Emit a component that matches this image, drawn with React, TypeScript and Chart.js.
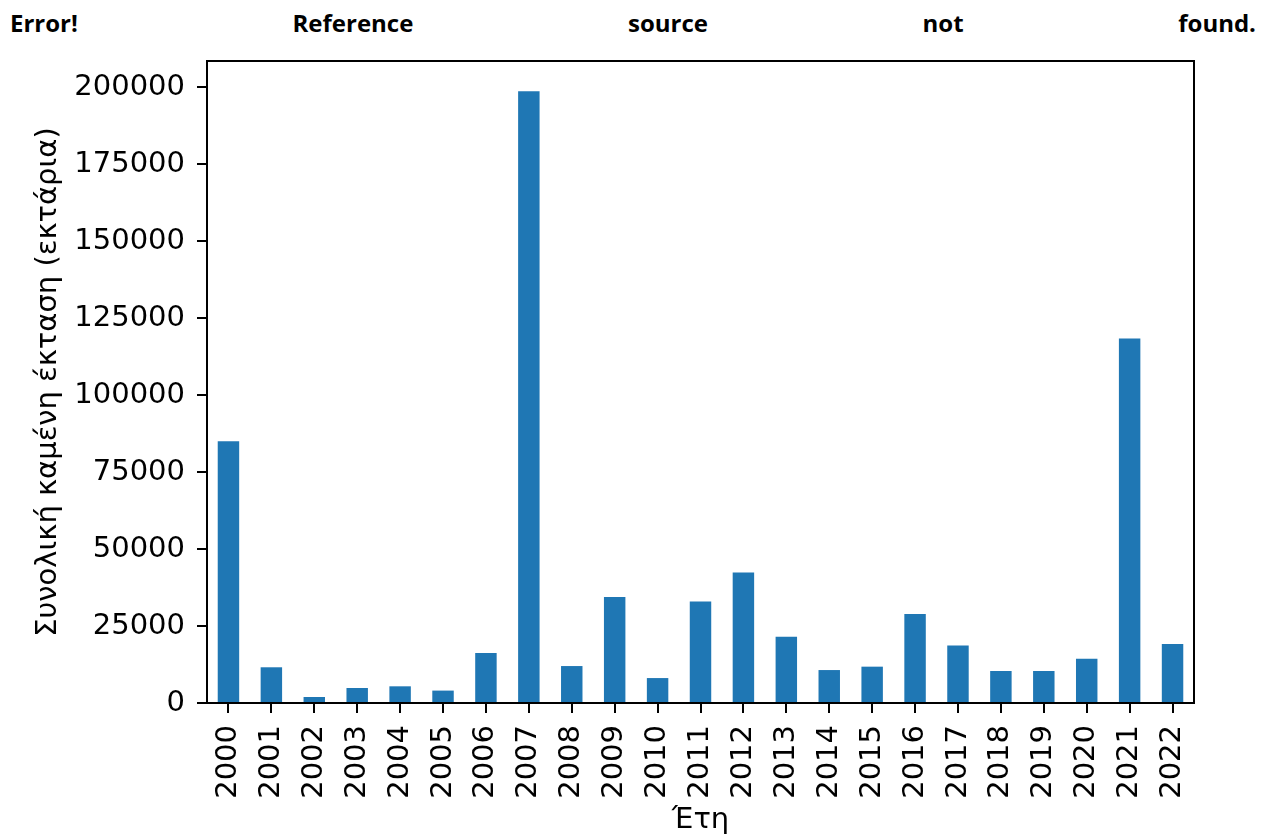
import React, { useEffect, useRef } from "react";
import { Chart, registerables } from "chart.js";

Chart.register(...registerables);

const years = [
  "2000", "2001", "2002", "2003", "2004", "2005", "2006", "2007", "2008", "2009", "2010", "2011",
  "2012", "2013", "2014", "2015", "2016", "2017", "2018", "2019", "2020", "2021", "2022",
];
const burnedArea = [
  85000, 11600, 1950, 4870, 5420, 4030, 16200, 198700, 12000, 34400, 8100, 33000,
  42350, 21550, 10700, 11800, 28900, 18700, 10400, 10400, 14400, 118400, 19150,
];
const yTicks = [0, 25000, 50000, 75000, 100000, 125000, 150000, 175000, 200000];
const yMax = 208500;
const headerWords = ["Error!", "Reference", "source", "not", "found."];
const yTitle = "Συνολική καμένη έκταση (εκτάρια)";
const xTitle = "Έτη";

const framePlugin = {
  id: "frame",
  afterDatasetsDraw(chart: any) {
    const { ctx, chartArea } = chart;
    ctx.save();
    ctx.strokeStyle = "#000";
    ctx.lineWidth = 2;
    ctx.strokeRect(chartArea.left, chartArea.top, chartArea.right - chartArea.left, chartArea.bottom - chartArea.top);
    ctx.restore();
  },
};

export default function App() {
  const ref = useRef<HTMLCanvasElement | null>(null);
  useEffect(() => {
    if (!ref.current) return;
    const font = { family: "'DejaVu Sans', sans-serif", size: 29 };
    const chart = new Chart(ref.current, {
      type: "bar",
      data: {
        labels: years,
        datasets: [
          {
            data: burnedArea,
            backgroundColor: "#1f77b4",
            borderWidth: 0,
            categoryPercentage: 1,
            barPercentage: 0.5,
          },
        ],
      },
      options: {
        animation: false,
        responsive: false,
        devicePixelRatio: 1,
        layout: { padding: { top: 61, right: 68, bottom: 0, left: 0 } },
        plugins: { legend: { display: false }, tooltip: { enabled: false } },
        scales: {
          x: {
            offset: true,
            border: { display: false },
            grid: { offset: false, drawOnChartArea: false, drawTicks: true, tickLength: 10, color: "#000", lineWidth: 2 },
            ticks: { color: "#000", font, minRotation: 90, maxRotation: 90, padding: 12, autoSkip: false },
            title: { display: true, text: xTitle, color: "#000", font, padding: { top: 0, bottom: 0 } },
            afterFit: (s: any) => { s.height = 135; },
          },
          y: {
            min: 0,
            max: yMax,
            border: { display: false },
            grid: { drawOnChartArea: false, drawTicks: true, tickLength: 10, color: "#000", lineWidth: 2 },
            ticks: { color: "#000", font, padding: 12, autoSkip: false, callback: (v: any) => String(v) },
            title: { display: true, text: yTitle, color: "#000", font, padding: { top: 31, bottom: 0 } },
            afterBuildTicks: (s: any) => { s.ticks = yTicks.map((v) => ({ value: v })); },
            afterFit: (s: any) => { s.width = 207; },
          },
        },
      },
      plugins: [framePlugin],
    });
    return () => chart.destroy();
  }, []);

  return (
    <div style={{ position: "fixed", left: 0, top: 0, width: 1262, height: 838, background: "#fff" }}>
      <div
        style={{
          position: "absolute", left: 10, top: 11, width: 1246, display: "flex", justifyContent: "space-between",
          fontFamily: "'Open Sans', sans-serif", fontWeight: 700, fontSize: 24, lineHeight: 1, color: "#000",
        }}
      >
        {headerWords.map((w) => (<span key={w}>{w}</span>))}
      </div>
      <canvas ref={ref} width={1262} height={838} style={{ position: "absolute", left: 0, top: 0, display: "block" }} />
    </div>
  );
}
